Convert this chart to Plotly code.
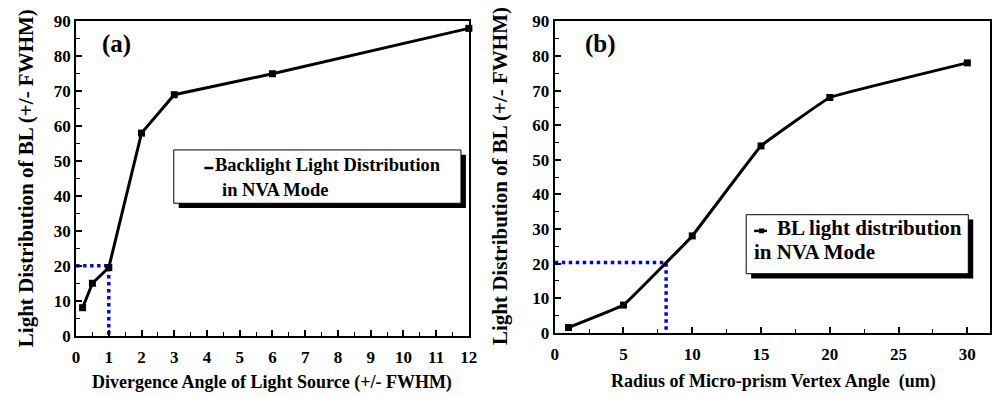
import plotly.graph_objects as go

# ---- data ----
a_x = [0.2, 0.5, 1, 2, 3, 6, 12]
a_y = [8, 15, 19.5, 58, 69, 75, 88]
a_guide_x = 1
a_guide_y = 20

b_x = [1, 5, 10, 15, 20, 30]
b_y = [1.5, 8, 28, 54, 68, 78]
b_guide_x = 8.1
b_guide_y = 20.3

a_xticks = list(range(0, 13))
b_xticks = [0, 5, 10, 15, 20, 25, 30]
y_ticks = list(range(0, 91, 10))

FONT = "Liberation Serif"
W, H = 999, 398

def px(x):
    return x / W

def py(y):
    return 1 - y / H

fig = go.Figure()

# panel a
fig.add_trace(go.Scatter(x=[0, a_guide_x, a_guide_x], y=[a_guide_y, a_guide_y, 0],
                         mode="lines", line=dict(color="#0000ff", width=3.5, dash="dot"),
                         xaxis="x", yaxis="y", showlegend=False))
fig.add_trace(go.Scatter(x=a_x, y=a_y, mode="lines+markers",
                         line=dict(color="black", width=3),
                         marker=dict(symbol="square", size=7, color="black"),
                         xaxis="x", yaxis="y", showlegend=False, cliponaxis=False))
# panel b
fig.add_trace(go.Scatter(x=[0, b_guide_x, b_guide_x], y=[b_guide_y, b_guide_y, 0],
                         mode="lines", line=dict(color="#0000ff", width=3.5, dash="dot"),
                         xaxis="x2", yaxis="y2", showlegend=False))
fig.add_trace(go.Scatter(x=b_x, y=b_y, mode="lines+markers",
                         line=dict(color="black", width=3, shape="spline", smoothing=0.15),
                         marker=dict(symbol="square", size=7, color="black"),
                         xaxis="x2", yaxis="y2", showlegend=False, cliponaxis=False))

tickfont = dict(family=FONT, size=17, color="black", weight="bold")
common = dict(showline=True, linecolor="black", linewidth=2, mirror=True,
              ticks="inside", ticklen=6, tickwidth=1.5, tickcolor="black",
              showgrid=False, zeroline=False, tickfont=tickfont)

fig.update_layout(
    width=W, height=H,
    margin=dict(l=0, r=0, t=0, b=0),
    paper_bgcolor="white", plot_bgcolor="white",
    xaxis=dict(domain=[px(73), px(471)], range=[0, 12], tickvals=a_xticks, ticklabelstandoff=5,
               minor=dict(dtick=0.5, ticks="inside", ticklen=4, tickwidth=1.2, tickcolor="black"),
               anchor="y", **common),
    yaxis=dict(domain=[py(343), py(13)], range=[0, 90], tickvals=y_ticks,
               minor=dict(dtick=5, ticks="inside", ticklen=4, tickwidth=1.2, tickcolor="black"),
               anchor="x", **common),
    xaxis2=dict(domain=[px(558), 1.0], range=[0, 31.65], tickvals=b_xticks, ticklabelstandoff=5,
                minor=dict(dtick=2.5, ticks="inside", ticklen=4, tickwidth=1.2, tickcolor="black"),
                anchor="y2", **common),
    yaxis2=dict(domain=[py(340), py(13)], range=[0, 90], tickvals=y_ticks,
                minor=dict(dtick=5, ticks="inside", ticklen=4, tickwidth=1.2, tickcolor="black"),
                anchor="x2", **common),
)

ytitlefont = dict(family=FONT, size=21, color="black", weight="bold")
xtitlefont = dict(family=FONT, size=18, color="black", weight="bold")
ann = []
ann.append(dict(text="Light Distribution of BL (+/- FWHM)", x=px(22), y=py(178), textangle=-90,
                xref="paper", yref="paper", showarrow=False, font=ytitlefont,
                xanchor="center", yanchor="middle"))
ann.append(dict(text="Light Distribution of BL (+/- FWHM)", x=px(502), y=py(175), textangle=-90,
                xref="paper", yref="paper", showarrow=False, font=ytitlefont,
                xanchor="center", yanchor="middle"))
ann.append(dict(text="Divergence Angle of Light Source (+/- FWHM)", x=px(272), y=py(392),
                xref="paper", yref="paper", showarrow=False, font=xtitlefont,
                xanchor="center", yanchor="middle"))
ann.append(dict(text="Radius of Micro-prism Vertex Angle  (um)", x=px(780), y=py(391),
                xref="paper", yref="paper", showarrow=False, font=xtitlefont,
                xanchor="center", yanchor="middle"))
panelfont = dict(family=FONT, size=25, color="black", weight="bold")
ann.append(dict(text="(a)", x=px(97), y=py(37), xref="paper", yref="paper", showarrow=False,
                font=panelfont, xanchor="left", yanchor="middle"))
ann.append(dict(text="(b)", x=px(587), y=py(37), xref="paper", yref="paper", showarrow=False,
                font=panelfont, xanchor="left", yanchor="middle"))

legfont = dict(family=FONT, size=18.5, color="black", weight="bold")
legfont_b = dict(family=FONT, size=21, color="black", weight="bold")
# legend a
ann.append(dict(text="Backlight Light Distribution", x=px(212), y=py(164), xref="paper", yref="paper",
                showarrow=False, font=legfont, xanchor="left", yanchor="middle"))
ann.append(dict(text="in NVA Mode", x=px(219), y=py(190), xref="paper", yref="paper",
                showarrow=False, font=legfont, xanchor="left", yanchor="middle"))
# legend b
ann.append(dict(text="BL light distribution", x=px(781), y=py(230), xref="paper", yref="paper",
                showarrow=False, font=legfont_b, xanchor="left", yanchor="middle"))
ann.append(dict(text="in NVA Mode", x=px(758), y=py(255), xref="paper", yref="paper",
                showarrow=False, font=legfont_b, xanchor="left", yanchor="middle"))
fig.update_layout(annotations=ann)

shapes = []
def box(x0, y0, x1, y1):
    shapes.append(dict(type="rect", xref="paper", yref="paper",
                       x0=px(x0 + 5), x1=px(x1 + 5), y0=py(y0 + 5), y1=py(y1 + 5),
                       fillcolor="black", line=dict(width=0), layer="above"))
    shapes.append(dict(type="rect", xref="paper", yref="paper",
                       x0=px(x0), x1=px(x1), y0=py(y0), y1=py(y1),
                       fillcolor="white", line=dict(color="black", width=1), layer="above"))
box(172, 148, 463, 204)
box(752, 216, 977, 278)
# legend symbols
shapes.append(dict(type="line", xref="paper", yref="paper", x0=px(203), x1=px(212), y0=py(167), y1=py(167),
                   line=dict(color="black", width=2.5), layer="above"))
shapes.append(dict(type="line", xref="paper", yref="paper", x0=px(760), x1=px(773), y0=py(233), y1=py(233),
                   line=dict(color="black", width=2.5), layer="above"))
shapes.append(dict(type="rect", xref="paper", yref="paper", x0=px(765), x1=px(770), y0=py(230.5), y1=py(235.5),
                   fillcolor="black", line=dict(width=0), layer="above"))
fig.update_layout(shapes=shapes)

fig.write_html("out.html")
